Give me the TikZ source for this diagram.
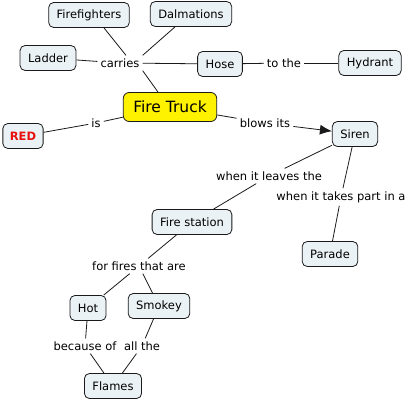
\documentclass[tikz,border=0pt]{standalone}
\usepackage{fontspec}
\setmainfont{DejaVu Sans}
\usetikzlibrary{arrows.meta}
\definecolor{boxfill}{HTML}{EBF2F5}
\definecolor{boxline}{HTML}{1A1A1A}
\definecolor{redtxt}{HTML}{E8100F}
\tikzset{
  concept/.style={draw=boxline, fill=boxfill, rounded corners=5pt, line width=0.8pt,
    minimum height=25pt, inner xsep=8pt, inner ysep=2pt, font=\fontsize{11.5}{13}\selectfont},
  linklabel/.style={inner sep=3pt, font=\fontsize{11.5}{13}\selectfont},
  conn/.style={line width=0.8pt, draw=boxline},
}
\begin{document}
\begin{tikzpicture}[x=1pt,y=-1pt]
\useasboundingbox[fill=white] (0,0) rectangle (415,401);
% concepts
\node[concept] (ff) at (89,15) {Firefighters};
\node[concept] (dal) at (191,14) {Dalmations};
\node[concept] (lad) at (48,58) {Ladder};
\node[concept] (hose) at (220,64) {Hose};
\node[concept] (hyd) at (370,63) {Hydrant};
\node[concept, fill=yellow, minimum height=29pt, inner xsep=10pt, rounded corners=6pt, font=\fontsize{15.5}{17}\selectfont] (ft) at (170,107) {Fire Truck};
\node[concept, text=redtxt, font=\fontsize{11.5}{13}\selectfont\bfseries, inner xsep=7pt] (red) at (23,136) {RED};
\node[concept] (sir) at (355,134) {Siren};
\node[concept] (fs) at (192,222) {Fire station};
\node[concept] (par) at (330,254) {Parade};
\node[concept] (hot) at (88,308) {Hot};
\node[concept] (smk) at (159,306) {Smokey};
\node[concept] (fla) at (113,386) {Flames};
% linking phrases
\node[linklabel] (carr) at (120,63) {carries};
\node[linklabel] (tothe) at (284,63) {to the};
\node[linklabel] (is) at (96,123) {is};
\node[linklabel] (blows) at (265,123) {blows its};
\node[linklabel] (leaves) at (269,176) {when it leaves the};
\node[linklabel] (takes) at (341,197) {when it takes part in a};
\node[linklabel] (fires) at (139,266) {for fires that are};
\node[linklabel] (becof) at (85,346) {because of};
\node[linklabel] (allthe) at (142,346) {all the};
% connectors
\draw[conn] ([xshift=15pt]ff.south) -- ([xshift=6pt]carr.north);
\draw[conn] ([xshift=-16pt]dal.south) -- (carr.north east);
\draw[conn] (lad) -- (carr);
\draw[conn] (carr) -- (hose);
\draw[conn] (carr.south east) -- ([xshift=-12pt]ft.north);
\draw[conn] (hose) -- (tothe);
\draw[conn] (tothe) -- (hyd);
\draw[conn] (ft) -- (is);
\draw[conn] (is) -- (red);
\draw[conn] (ft) -- (blows);
\draw[conn, -{Latex[length=12pt,width=10pt]}] (blows) -- (sir);
\draw[conn] (sir) -- (leaves);
\draw[conn] (leaves) -- (fs);
\draw[conn] (sir) -- (takes);
\draw[conn] (takes) -- (par);
\draw[conn] (fs) -- (fires);
\draw[conn] (fires) -- (hot);
\draw[conn] (fires) -- (smk);
\draw[conn] (hot) -- (becof);
\draw[conn] (becof) -- (fla);
\draw[conn] (smk) -- (allthe);
\draw[conn] (allthe) -- (fla);
\end{tikzpicture}
\end{document}
